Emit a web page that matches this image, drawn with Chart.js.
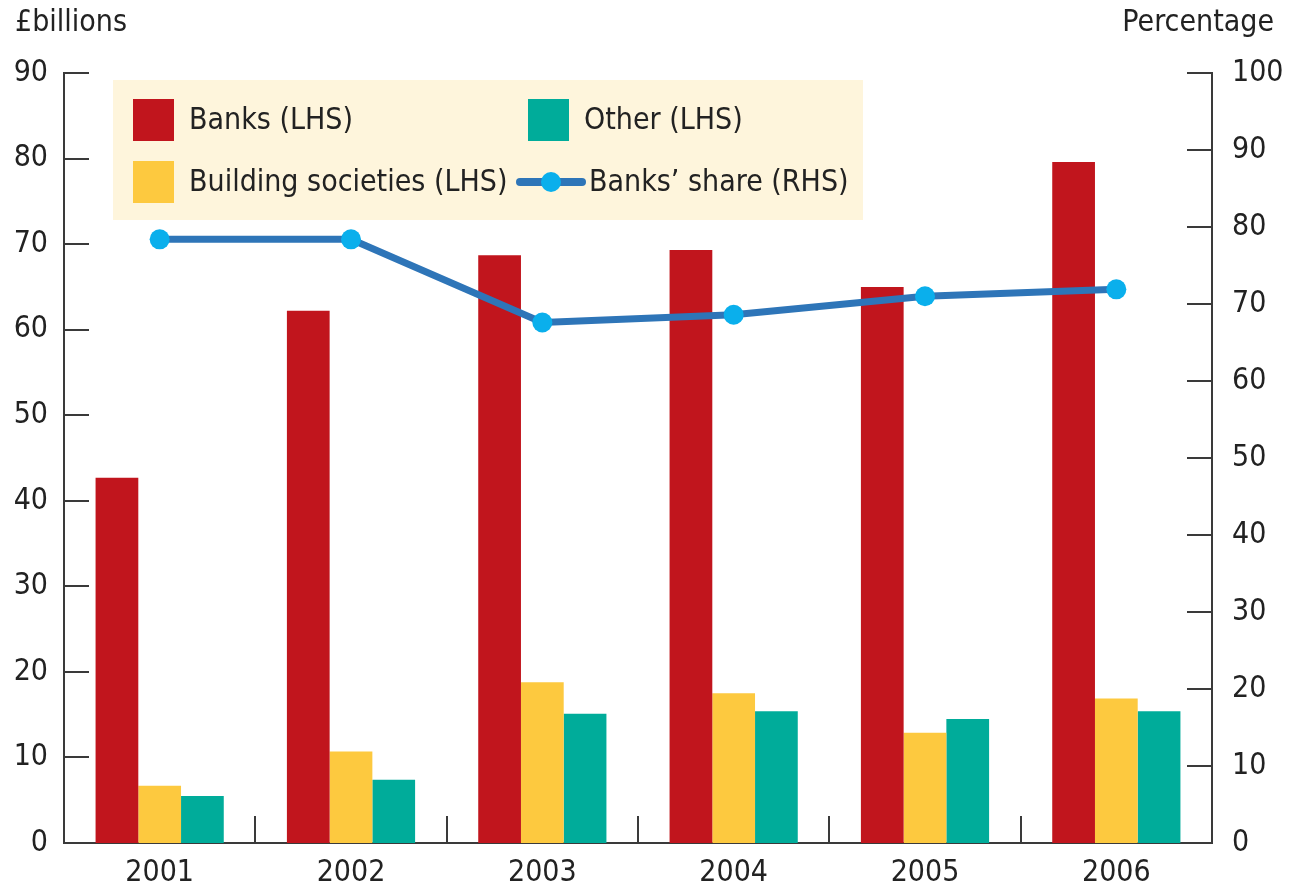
<!DOCTYPE html>
<html>
<head>
<meta charset="utf-8">
<script src="https://cdn.jsdelivr.net/npm/chart.js@4"></script>
<style>
  html, body { margin: 0; padding: 0; background: #fff; }
  #wrap { width: 1290px; height: 888px; position: relative; }
</style>
</head>
<body>
<div id="wrap"><canvas id="grafico"></canvas></div>
<script>
// datos del gráfico
const years = ['2001', '2002', '2003', '2004', '2005', '2006'];
const banks = [42.7, 62.2, 68.7, 69.3, 65.0, 79.6];
const buildingSocieties = [6.7, 10.7, 18.8, 17.5, 12.9, 16.9];
const other = [5.5, 7.4, 15.1, 15.4, 14.5, 15.4];
const banksShare = [78.4, 78.4, 67.6, 68.6, 71.0, 71.9];
const leftTicks = [0, 10, 20, 30, 40, 50, 60, 70, 80, 90];
const rightTicks = [0, 10, 20, 30, 40, 50, 60, 70, 80, 90, 100];

const FONT = "'Liberation Sans Narrow', 'DejaVu Sans Condensed', 'Arial Narrow', sans-serif";
const AXIS = '#3a3a3a';
const RED = '#c1151d';
const YELLOW = '#fdc93f';
const TEAL = '#00ac9a';
const BLUE = '#2e75b8';
const DOT = '#0aafec';

// leyenda, titulos y marcas de los ejes
const extras = {
    id: 'extras',
    beforeDatasetsDraw(chart) {
        const ctx = chart.ctx;
        ctx.save();
        ctx.fillStyle = '#fef5dc';
        ctx.fillRect(113, 80, 750, 140);

        ctx.font = '30px ' + FONT;
        ctx.textBaseline = 'middle';
        ctx.textAlign = 'left';

        const items = [
            { label: chart.data.datasets[0].label, color: RED, x: 133, y: 120 },
            { label: chart.data.datasets[1].label, color: YELLOW, x: 133, y: 182 },
            { label: chart.data.datasets[2].label, color: TEAL, x: 528, y: 120 }
        ];
        items.forEach(it => {
            ctx.fillStyle = it.color;
            ctx.fillRect(it.x, it.y - 21, 41, 42);
            ctx.fillStyle = '#222';
            ctx.fillText(it.label, it.x + 56, it.y + 1);
        });

        // muestra de la linea
        ctx.strokeStyle = BLUE;
        ctx.lineWidth = 8;
        ctx.lineCap = 'round';
        ctx.beginPath();
        ctx.moveTo(520, 182);
        ctx.lineTo(582, 182);
        ctx.stroke();
        ctx.fillStyle = DOT;
        ctx.beginPath();
        ctx.arc(551, 182, 10, 0, Math.PI * 2);
        ctx.fill();
        ctx.fillStyle = '#222';
        ctx.fillText(chart.data.datasets[3].label, 589, 183);
        ctx.restore();
    },
    afterDraw(chart) {
        const ctx = chart.ctx;
        const area = chart.chartArea;
        const yL = chart.scales.y;
        const yR = chart.scales.y2;
        const x = chart.scales.x;
        ctx.save();
        ctx.strokeStyle = AXIS;
        ctx.lineWidth = 2;
        ctx.beginPath();
        leftTicks.forEach(v => {
            const py = Math.round(yL.getPixelForValue(v));
            ctx.moveTo(area.left, py);
            ctx.lineTo(area.left + 25, py);
        });
        rightTicks.forEach(v => {
            const py = Math.round(yR.getPixelForValue(v));
            ctx.moveTo(area.right, py);
            ctx.lineTo(area.right - 25, py);
        });
        for (let i = 0; i < years.length - 1; i++) {
            const px = Math.round((x.getPixelForValue(i) + x.getPixelForValue(i + 1)) / 2);
            ctx.moveTo(px, area.bottom);
            ctx.lineTo(px, area.bottom - 27);
        }
        ctx.stroke();

        ctx.fillStyle = '#222';
        ctx.font = '30px ' + FONT;
        ctx.textBaseline = 'middle';
        ctx.textAlign = 'left';
        ctx.fillText('£billions', 15, 23);
        ctx.textAlign = 'right';
        ctx.fillText('Percentage', 1274, 23);
        ctx.restore();
    }
};

const tickFont = { family: FONT, size: 30 };

new Chart(document.getElementById('grafico'), {
    data: {
        labels: years,
        datasets: [
            { type: 'bar', label: 'Banks (LHS)', data: banks, backgroundColor: RED, yAxisID: 'y', order: 1 },
            { type: 'bar', label: 'Building societies (LHS)', data: buildingSocieties, backgroundColor: YELLOW, yAxisID: 'y', order: 1 },
            { type: 'bar', label: 'Other (LHS)', data: other, backgroundColor: TEAL, yAxisID: 'y', order: 1 },
            {
                type: 'line', label: 'Banks\u2019 share (RHS)', data: banksShare, yAxisID: 'y2', order: 0,
                borderColor: BLUE, borderWidth: 7, pointRadius: 10, pointBackgroundColor: DOT,
                pointBorderWidth: 0, tension: 0
            }
        ]
    },
    options: {
        responsive: true,
        maintainAspectRatio: false,
        animation: false,
        layout: { padding: { top: 73, left: 0, right: 0, bottom: 0 } },
        datasets: { bar: { barPercentage: 1, categoryPercentage: 0.67 } },
        plugins: { legend: { display: false }, tooltip: { enabled: false } },
        scales: {
            x: {
                grid: { display: false, drawTicks: false, tickLength: 0 },
                border: { display: true, color: AXIS, width: 2 },
                ticks: { color: '#222', font: tickFont, padding: 12, maxRotation: 0 },
                afterFit(scale) { scale.height = 45; }
            },
            y: {
                position: 'left',
                min: 0, max: 90,
                afterBuildTicks(scale) { scale.ticks = leftTicks.map(v => ({ value: v })); },
                grid: { display: false, drawTicks: false, tickLength: 0 },
                border: { display: true, color: AXIS, width: 2 },
                ticks: { color: '#222', font: tickFont, padding: 16 },
                afterFit(scale) { scale.width = 64; }
            },
            y2: {
                position: 'right',
                min: 0, max: 100,
                afterBuildTicks(scale) { scale.ticks = rightTicks.map(v => ({ value: v })); },
                grid: { display: false, drawTicks: false, tickLength: 0 },
                border: { display: true, color: AXIS, width: 2 },
                ticks: { color: '#222', font: tickFont, padding: 20 },
                afterFit(scale) { scale.width = 78; }
            }
        }
    },
    plugins: [extras]
});
</script>
</body>
</html>
